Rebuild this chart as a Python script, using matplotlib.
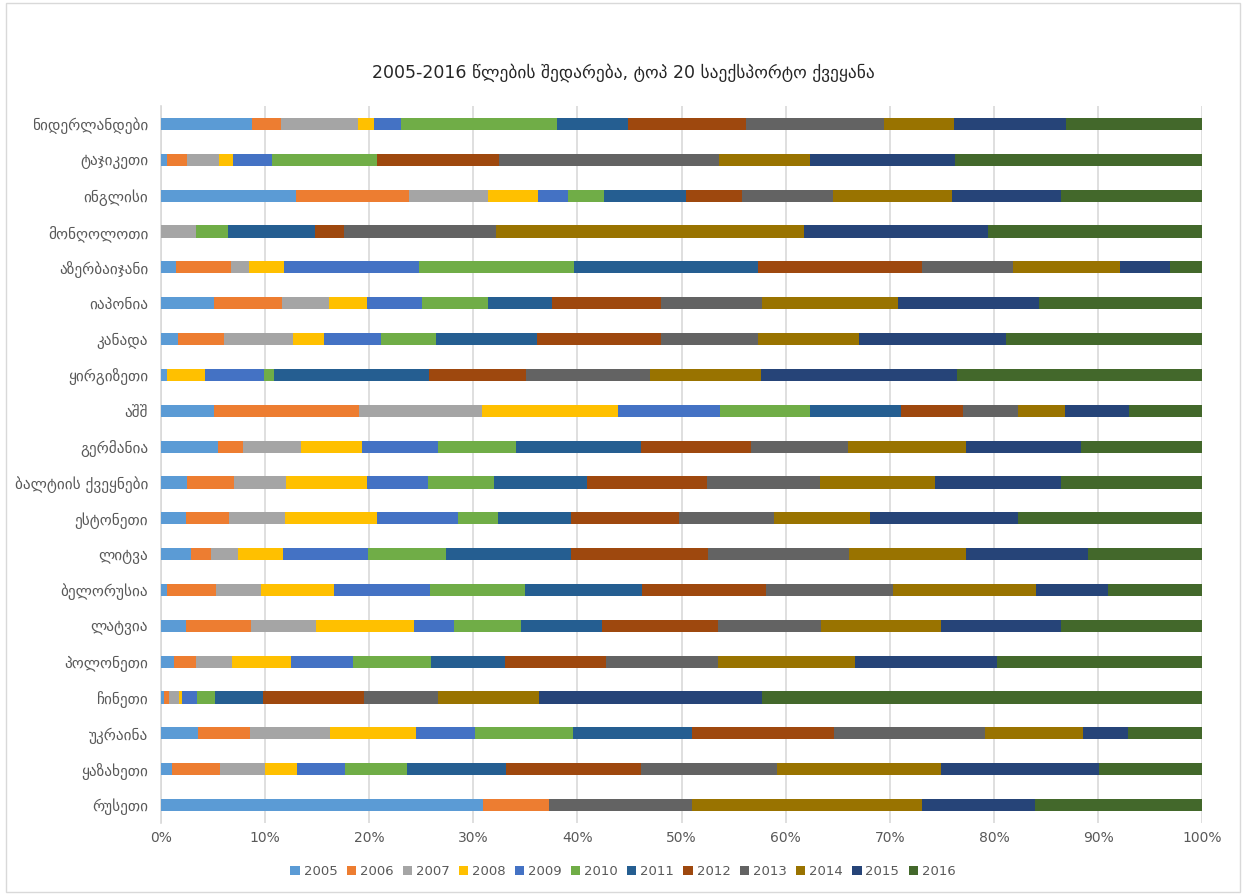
import matplotlib
matplotlib.use('Agg')
import matplotlib.pyplot as plt
from matplotlib.patches import Rectangle
from matplotlib.ticker import PercentFormatter
import numpy as np

plt.rcParams['font.family'] = ['DejaVu Sans']

# ქვეყნები (ზემოდან ქვემოთ)
countries = ['ნიდერლანდები', 'ტაჯიკეთი', 'ინგლისი', 'მონღოლოთი', 'აზერბაიჯანი',
             'იაპონია', 'კანადა', 'ყირგიზეთი', 'აშშ', 'გერმანია',
             'ბალტიის ქვეყნები', 'ესტონეთი', 'ლიტვა', 'ბელორუსია', 'ლატვია',
             'პოლონეთი', 'ჩინეთი', 'უკრაინა', 'ყაზახეთი', 'რუსეთი']
years = ['2005', '2006', '2007', '2008', '2009', '2010',
         '2011', '2012', '2013', '2014', '2015', '2016']

# წილები (%), წლების მიხედვით
v2005 = [8.8, 0.6, 12.95, 0, 1.49, 5.07, 1.69, 0.6, 5.07, 5.46, 2.55, 2.42, 2.88, 0.6, 2.42, 1.32, 0.33, 3.58, 1.06, 30.93]
v2006 = [2.7, 1.95, 10.86, 0, 5.23, 6.55, 4.37, 0, 13.97, 2.39, 4.5, 4.1, 1.95, 4.73, 6.22, 2.09, 0.5, 4.96, 4.6, 6.39]
v2007 = [7.4, 3.08, 7.58, 3.34, 1.72, 4.51, 6.66, 0, 11.79, 5.59, 4.97, 5.4, 2.59, 4.34, 6.26, 3.41, 0.92, 7.69, 4.37, 0]
v2008 = [1.6, 1.29, 4.84, 0, 3.38, 3.67, 2.94, 3.64, 13.11, 5.9, 7.78, 8.84, 4.33, 6.99, 9.44, 5.66, 0.27, 8.31, 3.02, 0]
v2009 = [2.6, 3.74, 2.88, 0, 12.95, 5.3, 5.5, 5.66, 9.79, 7.28, 5.9, 7.78, 8.15, 9.2, 3.84, 5.93, 1.42, 5.66, 4.63, 0]
v2010 = [14.9, 10.1, 3.47, 3.15, 14.87, 6.29, 5.26, 0.93, 8.6, 7.45, 6.32, 3.88, 7.52, 9.07, 6.42, 7.55, 1.76, 9.37, 6.0, 0]
v2011 = [6.9, 0, 7.87, 8.31, 17.73, 6.16, 9.71, 14.96, 8.69, 12.06, 8.94, 6.92, 11.92, 11.3, 7.78, 7.12, 4.6, 11.39, 9.47, 0]
v2012 = [11.3, 11.72, 5.37, 2.82, 15.76, 10.43, 11.85, 9.24, 5.98, 10.55, 11.52, 10.43, 13.24, 11.9, 11.12, 9.67, 9.7, 13.65, 12.91, 0]
v2013 = [13.2, 21.16, 8.72, 14.57, 8.73, 9.79, 9.39, 11.96, 5.32, 9.28, 10.8, 9.12, 13.45, 12.19, 9.88, 10.75, 7.16, 14.5, 13.06, 13.64]
v2014 = [6.8, 8.65, 11.4, 29.61, 10.27, 12.98, 9.62, 10.61, 4.53, 11.34, 11.08, 9.19, 11.23, 13.72, 11.54, 13.16, 9.63, 9.46, 15.8, 22.17]
v2015 = [10.7, 13.92, 10.51, 17.58, 4.73, 13.52, 14.14, 18.87, 6.08, 11.07, 12.03, 14.24, 11.8, 6.94, 11.47, 13.58, 21.41, 4.29, 15.2, 10.84]
v2016 = [13.1, 23.79, 13.55, 20.62, 3.14, 15.73, 18.87, 23.53, 7.07, 11.63, 13.61, 17.68, 10.94, 9.02, 13.61, 19.76, 42.3, 7.14, 9.88, 16.03]

colors = ['#5B9BD5', '#ED7D31', '#A5A5A5', '#FFC000', '#4472C4', '#70AD47',
          '#255E91', '#9E480E', '#636363', '#997300', '#264478', '#43682B']

data = np.array([v2005, v2006, v2007, v2008, v2009, v2010,
                 v2011, v2012, v2013, v2014, v2015, v2016], dtype=float)
data = data / data.sum(axis=0) * 100  # 100% stacked

fig = plt.figure(figsize=(12.46, 8.94), dpi=100)
ax = fig.add_axes([0.129, 0.0794, 0.836, 0.802])

y = np.arange(len(countries))
left = np.zeros(len(countries))
for i, yr in enumerate(years):
    ax.barh(y, data[i], left=left, height=0.34, color=colors[i], label=yr, zorder=3)
    left += data[i]

ax.set_ylim(len(countries) - 0.5, -0.5)
ax.set_xlim(0, 100)
ax.set_xticks(np.arange(0, 101, 10))
ax.xaxis.set_major_formatter(PercentFormatter(decimals=0))
ax.set_yticks(y)
ax.set_yticklabels(countries)
ax.tick_params(axis='both', length=0, labelsize=10, colors='#595959')
ax.tick_params(axis='y', labelsize=11, pad=9)
ax.tick_params(axis='x', pad=6)
ax.grid(axis='x', color='#d9d9d9', linewidth=1.2, zorder=0)
for s in ['top', 'right', 'bottom']:
    ax.spines[s].set_visible(False)
ax.spines['left'].set_color('#d9d9d9')
ax.spines['left'].set_linewidth(1.2)

fig.text(0.5, 0.919, '2005-2016 წლების შედარება, ტოპ 20 საექსპორტო ქვეყანა',
         ha='center', va='center', fontsize=12.5, color='#262626')

fig.legend(loc='center', bbox_to_anchor=(0.5, 0.025), ncol=12, frameon=False,
           fontsize=9.5, handlelength=0.7, handleheight=0.7, handletextpad=0.3,
           columnspacing=0.7, labelcolor='#595959')

# ჩარჩო
fig.patches.append(Rectangle((0.005, 0.002), 0.99, 0.995, transform=fig.transFigure,
                             fill=False, edgecolor='#d9d9d9', linewidth=1))

fig.savefig('out.png', dpi=100)
